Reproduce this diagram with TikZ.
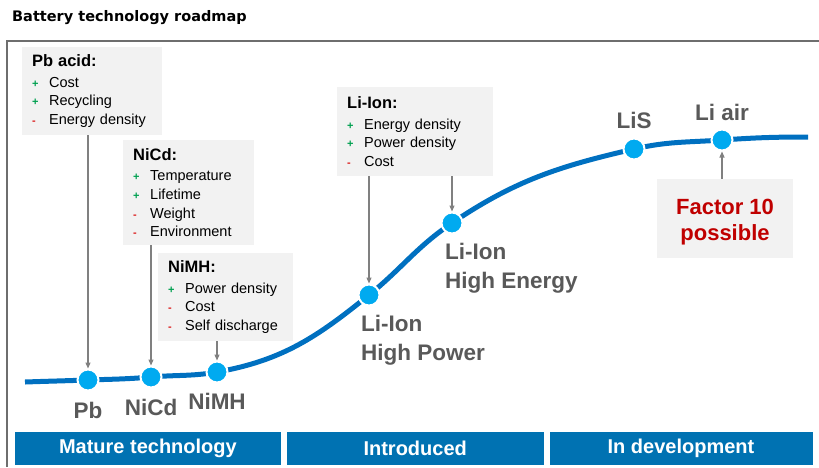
\documentclass[tikz,border=0pt]{standalone}
\usepackage{fontspec}
\setmainfont{Liberation Sans}
\newfontfamily\headfont{DejaVu Sans}
\usetikzlibrary{arrows.meta, positioning, backgrounds}
\definecolor{curveblue}{RGB}{0,112,192}
\definecolor{dotblue}{RGB}{0,170,240}
\definecolor{barblue}{RGB}{0,114,178}
\definecolor{boxgray}{RGB}{242,242,242}
\definecolor{labelgray}{RGB}{89,89,89}
\definecolor{arrowgray}{RGB}{128,128,128}
\definecolor{framegray}{RGB}{110,110,110}
\definecolor{progreen}{RGB}{0,160,80}
\definecolor{conred}{RGB}{220,30,30}
\definecolor{factorred}{RGB}{192,0,0}
\newcommand{\pro}{\makebox[17pt][l]{\textcolor{progreen}{\fontsize{11}{11}\selectfont\bfseries +}}}
\newcommand{\con}{\makebox[17pt][l]{\textcolor{conred}{\fontsize{11}{11}\selectfont\bfseries -}}}
\newcommand{\boxhead}[1]{{\bfseries\fontsize{16.5}{18.7}\selectfont #1}}

\begin{document}
\begin{tikzpicture}[
    x=1pt, y=-1pt,
    infobox/.style={fill=boxgray, anchor=north west, inner xsep=10pt, inner ysep=0pt, align=left, font=\fontsize{14.5}{18.7}\selectfont},
    tech/.style={circle, fill=dotblue, draw=white, line width=2pt, minimum size=21pt, inner sep=0pt},
    techlabel/.style={text=labelgray, font=\bfseries\fontsize{22.5}{28.5}\selectfont, inner sep=0pt},
    phase/.style={fill=barblue, draw=white, line width=0.8pt, minimum height=34pt, text=white, font=\bfseries\fontsize{20}{20}\selectfont, inner sep=0pt},
    pointer/.style={-{Triangle[width=5pt,length=6pt]}, arrowgray, line width=1.2pt},
    curve/.style={curveblue, line width=5pt}
]
    \useasboundingbox (0,0) rectangle (819,467);

    % Title and frame
    \node[anchor=base west, inner sep=0pt, font=\headfont\bfseries\fontsize{14.5}{14.5}\selectfont] (title) at (12,21) {Battery technology roadmap};
    \draw[framegray, line width=1.5pt] (7,467) -- (7,41) -- (819,41);

    % Technologies on the curve
    \coordinate (start) at (25,382);
    \coordinate (end) at (808,137);
    \node[tech] (pb) at (88,380) {};
    \node[tech] (nicd) at (151,377) {};
    \node[tech] (nimh) at (217,372) {};
    \node[tech] (hipower) at (369,295) {};
    \node[tech] (hienergy) at (452,223) {};
    \node[tech] (lis) at (634,149) {};
    \node[tech] (liair) at (722,140) {};
    \begin{scope}[on background layer]
        \draw[curve] (start) to[out=2, in=182] (pb.center)
            to[out=2, in=185] (nicd.center)
            to[out=5, in=190] (nimh.center)
            to[out=10, in=219] (hipower.center)
            to[out=39, in=214] (hienergy.center)
            to[out=34, in=193] (lis.center)
            to[out=13, in=184] (liair.center)
            to[out=4, in=180] (end);
    \end{scope}

    % Labels
    \node[techlabel, below=10pt of pb] (pblabel) {Pb};
    \node[techlabel, below=10pt of nicd] (nicdlabel) {NiCd};
    \node[techlabel, below=9pt of nimh] (nimhlabel) {NiMH};
    \node[techlabel, align=left, anchor=north west] (hplabel) at ([xshift=-8pt, yshift=-20pt]hipower.center) {Li-Ion\\High Power};
    \node[techlabel, align=left, anchor=north west] (helabel) at ([xshift=-7pt, yshift=-20pt]hienergy.center) {Li-Ion\\High Energy};
    \node[techlabel, above=9pt of lis] (lislabel) {LiS};
    \node[techlabel, above=8pt of liair] (liairlabel) {Li air};

    % Property boxes
    \node[infobox, text width=120pt, minimum height=88pt] (pbbox) at (22,47) {\boxhead{Pb acid:}\\[1.5pt] \pro Cost\\ \pro Recycling\\ \con Energy density};
    \node[infobox, text width=111pt, minimum height=105pt] (nicdbox) at (123,140) {\boxhead{NiCd:}\\[1.5pt] \pro Temperature\\ \pro Lifetime\\ \con Weight\\ \con Environment};
    \node[infobox, text width=115pt, minimum height=88pt] (nimhbox) at (158,253) {\boxhead{NiMH:}\\[1.5pt] \pro Power density\\ \con Cost\\ \con Self discharge};
    \node[infobox, text width=136pt, minimum height=89pt] (liionbox) at (337,87) {\boxhead{Li-Ion:}\\[1.5pt] \pro Energy density\\ \pro Power density\\ \con Cost};
    \node[fill=boxgray, minimum width=136pt, minimum height=79pt, align=center, text=factorred, font=\bfseries\fontsize{22}{26}\selectfont] (factorbox) at (725,218.5) {\rule{0pt}{22pt}Factor 10\\possible};

    % Pointers
    \draw[pointer] (pbbox.south -| pb) -- (pb);
    \draw[pointer] (nicdbox.south -| nicd) -- (nicd);
    \draw[pointer] (nimhbox.south -| nimh) -- (nimh);
    \draw[pointer] (liionbox.south -| hipower) -- (hipower);
    \draw[pointer] (liionbox.south -| hienergy) -- (hienergy);
    \draw[pointer] (factorbox.north -| liair) -- (liair);

    % Phases
    \node[phase, anchor=north west, minimum width=267pt] (mature) at (14,431) {Mature technology};
    \node[phase, right=4pt of mature, minimum width=258pt] (introduced) {Introduced};
    \node[phase, right=4pt of introduced, minimum width=264pt] (development) {In development};
\end{tikzpicture}
\end{document}
